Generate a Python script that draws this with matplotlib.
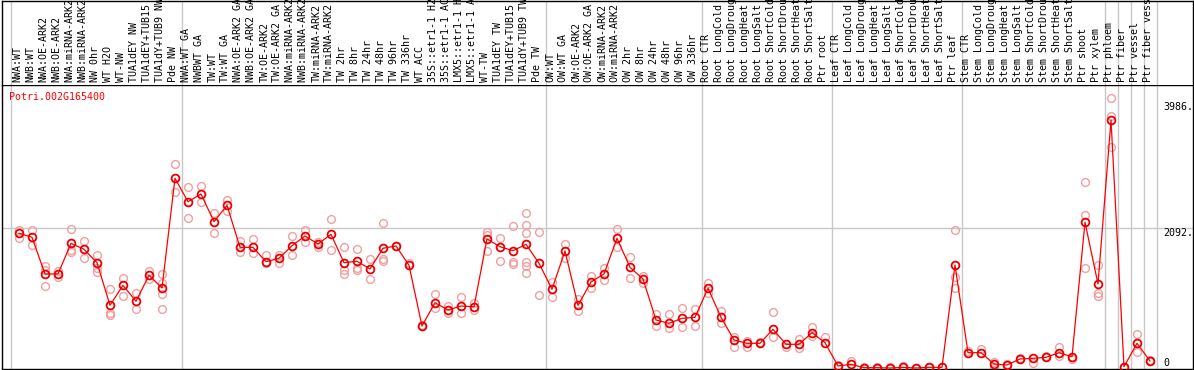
import numpy as np
import matplotlib
matplotlib.use("Agg")
import matplotlib.pyplot as plt

# expression profile, one column per sample
gene_id = "Potri.002G165400"

labels = [
    "NWA:WT", "NWB:WT", "NWA:OE-ARK2", "NWB:OE-ARK2", "NWA:miRNA-ARK2", "NWB:miRNA-ARK2",
    "NW 0hr", "WT H2O", "WT-NW", "TUA1dEY NW", "TUA1dEY+TUB15 NW", "TUA1dY+TUB9 NW", "Pde NW",
    "NWA:WT GA", "NWBWT GA", "TW:WT", "TW:WT GA", "NWA:OE-ARK2 GA", "NWB:OE-ARK2 GA",
    "TW:OE-ARK2", "TW:OE-ARK2 GA", "NWA:miRNA-ARK2 GA", "NWB:miRNA-ARK2 GA", "TW:miRNA-ARK2",
    "TW:miRNA-ARK2 GA", "TW 2hr", "TW 8hr", "TW 24hr", "TW 48hr", "TW 96hr", "TW 336hr",
    "WT ACC", "35S::etr1-1 H2O", "35S::etr1-1 ACC", "LMX5::etr1-1 H2O", "LMX5::etr1-1 ACC",
    "WT-TW", "TUA1dEY TW", "TUA1dEY+TUB15 TW", "TUA1dY+TUB9 TW", "Pde TW",
    "OW:WT", "OW:WT GA", "OW:OE-ARK2", "OW:OE-ARK2 GA", "OW:miRNA-ARK2", "OW:miRNA-ARK2 GA",
    "OW 2hr", "OW 8hr", "OW 24hr", "OW 48hr", "OW 96hr", "OW 336hr",
    "Root CTR", "Root LongCold", "Root LongDrought", "Root LongHeat", "Root LongSalt",
    "Root ShortCold", "Root ShortDrought", "Root ShortHeat", "Root ShortSalt", "Ptr root",
    "Leaf CTR", "Leaf LongCold", "Leaf LongDrought", "Leaf LongHeat", "Leaf LongSalt",
    "Leaf ShortCold", "Leaf ShortDrought", "Leaf ShortHeat", "Leaf ShortSalt", "Ptr leaf",
    "Stem CTR", "Stem LongCold", "Stem LongDrought", "Stem LongHeat", "Stem LongSalt",
    "Stem ShortCold", "Stem ShortDrought", "Stem ShortHeat", "Stem ShortSalt", "Ptr shoot",
    "Ptr xylem", "Ptr phloem", "Ptr fiber", "Ptr vessel", "Ptr fiber vessel",
]

group_sizes = [13, 28, 12, 10, 10, 11, 1, 1, 1, 1]

means = [
    2017, 1957, 1408, 1408, 1867, 1778, 1577, 939, 1238, 999, 1388, 1198, 2841,
    2490, 2606, 2191, 2436, 1807, 1807, 1592, 1643, 1831, 1977, 1857, 2002, 1577, 1598,
    1483, 1793, 1827, 1538, 629, 978, 869, 928, 918, 1932, 1816, 1757, 1852, 1568,
    1179, 1752, 939, 1288, 1408, 1942, 1508, 1333, 719, 669, 744, 759,
    1194, 759, 419, 370, 370, 580, 355, 355, 529, 379,
    30, 55, 5, 5, 0, 10, 0, 10, 10, 1542,
    229, 229, 60, 45, 135, 145, 160, 229, 169, 2182, 1258,
    3714, 20, 370, 105,
]

replicates = [
    [2067, 1942], [2067, 1842], [1527, 1468, 1228], [1457, 1358], [2077, 1767, 1742],
    [1906, 1643], [1692, 1493, 1442], [1179, 828, 794], [1343, 1083], [1119, 879],
    [1453, 1328], [1408, 1268, 1108, 879], [3050, 2631],
    [2715, 2242], [2730, 2490], [2326, 2017], [2516, 2351], [1902, 1742], [1927, 1718],
    [1692, 1572], [1692, 1568], [1981, 1692], [2067, 1891], [1891, 1816], [2231, 1767],
    [1816, 1468, 1408], [1778, 1493, 1468], [1628, 1328], [2167, 1628, 1607], [1827],
    [1577], [644], [1104, 894], [928, 819], [1068, 819], [978, 869], [2041, 1992, 1757],
    [1942, 1607], [2126, 1592, 1557], [2326, 2137, 2017, 1592, 1532, 1418], [2041, 1093],
    [1292, 1068], [1857, 1643], [1029, 858], [1378, 1194], [1493, 1318], [2077, 1807],
    [1667, 1343], [1378, 1268], [809, 629], [804, 594], [903, 609], [879, 629],
    [1277, 1128], [854, 669], [469, 310], [409, 319], [394], [843, 469], [319],
    [430, 295], [618, 479], [460],
    [45], [109], [20], [15], [10], [25], [5], [20], [15], [2067, 1367, 1194],
    [259], [280], [94, 10], [60], [150], [79], [175], [319, 180], [130],
    [2781, 2291, 1493], [1542, 1128, 1078],
    [4039, 3774, 3314], [10], [509, 244], [120],
]

y_ticks = [3986, 2092, 0]
y_tick_text = ["3986.", "2092.", "0"]

assert len(labels) == len(means) == len(replicates) == sum(group_sizes)

W, H = 1194, 370
COL0, STEP = 19.0, 13.0          # pixel x of first column, pixel step
ZERO_PX, PX_PER_UNIT = 368.0, 0.06678
HEADER_PX = 85.0
FONT = "DejaVu Sans Mono"
FS = 7.2
GRID = "#c8c8c8"


def px_to_col(px):
    return (px - COL0) / STEP


def px_to_val(py):
    return (ZERO_PX - py) / PX_PER_UNIT


fig = plt.figure(figsize=(W / 100, H / 100), dpi=100)
fig.patch.set_facecolor("white")

left_px, right_px = 1.5, 1192.5
bottom_px = 369.0
ax = fig.add_axes([left_px / W, (H - bottom_px) / H,
                   (right_px - left_px) / W, (bottom_px - HEADER_PX) / H])
hx = fig.add_axes([left_px / W, (H - HEADER_PX) / H,
                   (right_px - left_px) / W, (HEADER_PX - 0.5) / H])

xlim = (px_to_col(left_px), px_to_col(right_px))
ax.set_xlim(xlim)
ax.set_ylim(px_to_val(bottom_px), px_to_val(HEADER_PX))
hx.set_xlim(xlim)
hx.set_ylim(HEADER_PX, 0.5)

for a in (ax, hx):
    a.set_xticks([])
    a.set_yticks([])
    for s in a.spines.values():
        s.set_color("black")
        s.set_linewidth(1.0)
hx.spines["bottom"].set_visible(False)

# group separators
bounds = [-0.62] + list(np.cumsum(group_sizes) - 0.5)
for b in bounds:
    ax.axvline(b, color=GRID, lw=1.0, zorder=1)
    hx.axvline(b, color=GRID, lw=1.0, zorder=1)

ax.axhline(y_ticks[1], color=GRID, lw=1.0, zorder=1)

x = np.arange(len(means))

# replicate samples
rx, ry = [], []
for i, reps in enumerate(replicates):
    rx += [i] * len(reps)
    ry += reps
ax.plot(rx, ry, "o", ms=5.6, mfc="none", mec="#f0a0a0", mew=1.0, zorder=2)

# mean profile
ax.plot(x, means, "-", color="#ff0000", lw=0.9, zorder=3)
ax.plot(x, means, "o", ms=5.6, mfc="none", mec="#e80000", mew=1.3, zorder=4)

# sample names in header
for i, lab in enumerate(labels):
    hx.text(i - 0.12, 82.0, lab, rotation=90, ha="center", va="bottom",
            family=FONT, fontsize=FS, color="black")

ax.text(px_to_col(9), px_to_val(97), gene_id, ha="left", va="center",
        family=FONT, fontsize=FS, color="#ff0000")

tick_x = px_to_col(1163)
for v, t in zip(y_ticks, y_tick_text):
    ax.text(tick_x, v, t, ha="left", va="bottom" if v == 0 else "top",
            family=FONT, fontsize=FS, color="black")

fig.savefig("out.png", dpi=100)
